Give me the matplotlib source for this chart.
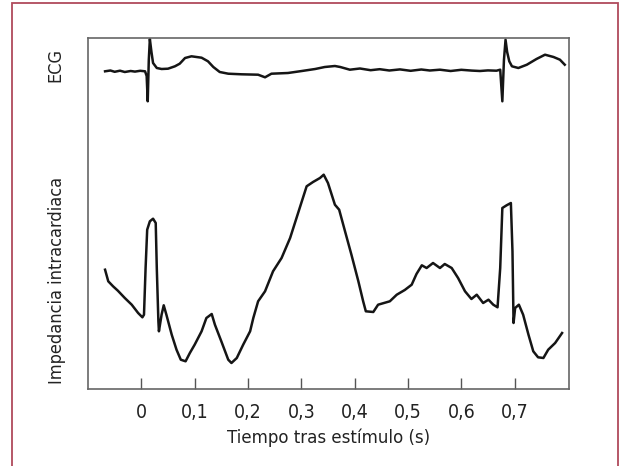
import matplotlib.pyplot as plt
from matplotlib.patches import Rectangle

plt.rcParams['font.family'] = ['DejaVu Sans']
plt.rcParams['font.stretch'] = 'condensed'

# ECG trace (time in s, arbitrary height units)
ecg_t = [-0.068, -0.058, -0.050, -0.040, -0.031, -0.020, -0.012, -0.002, 0.007, 0.010,
         0.012, 0.014, 0.016, 0.019, 0.022, 0.029, 0.038, 0.050, 0.063, 0.072,
         0.082, 0.094, 0.113, 0.125, 0.135, 0.147, 0.163, 0.188, 0.219, 0.232,
         0.244, 0.275, 0.301, 0.326, 0.344, 0.363, 0.373, 0.391, 0.410, 0.430,
         0.447, 0.465, 0.485, 0.505, 0.525, 0.541, 0.560, 0.580, 0.600, 0.620,
         0.635, 0.650, 0.666, 0.673, 0.677, 0.680, 0.683, 0.686, 0.690, 0.695,
         0.707, 0.723, 0.741, 0.757, 0.773, 0.785, 0.794]
ecg_h = [318.7, 319.5, 318.2, 319.3, 318.0, 319.0, 318.4, 319.2, 318.7, 314.0,
         288.7, 330.0, 351.0, 338.0, 327.0, 322.0, 321.0, 321.3, 323.7, 326.3,
         332.0, 333.7, 332.3, 328.7, 323.0, 318.0, 316.3, 315.7, 315.3, 312.7,
         316.3, 317.0, 319.0, 321.0, 323.0, 324.0, 323.0, 320.3, 321.5, 319.8,
         320.8, 319.5, 320.6, 319.2, 320.5, 319.5, 320.3, 319.0, 320.2, 319.4,
         319.0, 319.6, 319.3, 320.3, 288.7, 330.0, 350.3, 338.0, 328.7, 323.7,
         322.0, 325.3, 331.0, 335.3, 333.0, 330.3, 325.3]

# Intracardiac impedance trace
imp_t = [-0.068, -0.062, -0.053, -0.044, -0.031, -0.018, -0.006, 0.002, 0.005, 0.008,
         0.011, 0.016, 0.022, 0.027, 0.029, 0.032, 0.033, 0.038, 0.042, 0.047,
         0.057, 0.066, 0.074, 0.083, 0.091, 0.100, 0.113, 0.122, 0.132, 0.138,
         0.150, 0.163, 0.169, 0.179, 0.191, 0.204, 0.210, 0.219, 0.232, 0.247,
         0.263, 0.279, 0.291, 0.301, 0.310, 0.322, 0.335, 0.342, 0.350, 0.363,
         0.371, 0.382, 0.394, 0.407, 0.416, 0.421, 0.435, 0.444, 0.466, 0.479,
         0.494, 0.507, 0.516, 0.526, 0.535, 0.547, 0.560, 0.569, 0.582, 0.594,
         0.607, 0.619, 0.629, 0.641, 0.651, 0.660, 0.668, 0.673, 0.677, 0.685,
         0.693, 0.696, 0.698, 0.701, 0.708, 0.716, 0.726, 0.735, 0.744, 0.754,
         0.763, 0.776, 0.789]
imp_h = [120.3, 108.7, 103.7, 99.3, 92.0, 85.3, 77.0, 72.7, 75.3, 122.0,
         160.3, 168.7, 171.3, 167.0, 122.0, 68.7, 58.7, 75.3, 84.7, 75.3,
         55.3, 40.3, 30.3, 28.7, 37.0, 45.3, 58.7, 72.0, 76.0, 65.3,
         48.7, 30.3, 27.0, 32.0, 45.3, 58.7, 72.0, 88.7, 98.7, 118.7,
         132.0, 152.0, 172.0, 188.7, 203.7, 208.0, 212.0, 215.3, 207.0, 185.3,
         180.3, 158.7, 135.3, 108.7, 88.7, 78.7, 78.0, 85.3, 88.7, 95.3,
         100.0, 105.3, 116.0, 124.7, 122.0, 127.0, 122.0, 126.0, 122.0, 112.0,
         98.7, 91.0, 95.3, 87.0, 90.3, 85.3, 82.7, 122.0, 182.0, 184.7,
         187.0, 138.7, 67.0, 82.0, 85.3, 75.3, 55.3, 38.7, 32.7, 32.0,
         40.3, 47.0, 57.0]

tick_pos = [0, 0.1, 0.2, 0.3, 0.4, 0.5, 0.6, 0.7]
tick_labels = ['0', '0,1', '0,2', '0,3', '0,4', '0,5', '0,6', '0,7']

fig = plt.figure(figsize=(6.29, 4.66), dpi=100)
ax = fig.add_axes([88 / 629, 1 - 389 / 466, (569 - 88) / 629, (389 - 38) / 466])

ax.plot(ecg_t, ecg_h, color='#151515', lw=1.8)
ax.plot(imp_t, imp_h, color='#151515', lw=1.8)

ax.set_xlim(-0.1, 0.802)
ax.set_ylim(1, 352)
ax.set_yticks([])
ax.set_xticks(tick_pos)
ax.set_xticklabels(tick_labels)
ax.tick_params(axis='x', direction='in', length=8, width=1, color='#555555',
               labelsize=14, labelcolor='#222222', pad=10)
for side in ['left', 'right', 'top', 'bottom']:
    ax.spines[side].set_color('#666666')
    ax.spines[side].set_linestyle((0, (1.5, 1)))
    ax.spines[side].set_linewidth(1.2)

ax.set_xlabel('Tiempo tras estímulo (s)', fontsize=13.3, color='#222222', labelpad=5)

fig.text(55 / 629, 1 - 65 / 466, 'ECG', rotation=90, ha='center', va='center',
         fontsize=13, color='#222222')
fig.text(57 / 629, 1 - 280 / 466, 'Impedancia intracardiaca', rotation=90,
         ha='center', va='center', fontsize=13, color='#222222')

# outer reddish frame (open at the bottom edge of the image)
fig.patches.append(Rectangle((11.5 / 629, -0.05), (618 - 11.5) / 629, 1.05 - 3 / 466,
                             transform=fig.transFigure, fill=False,
                             edgecolor='#b04a5c', linewidth=1.3))

fig.savefig('out.png', dpi=100)
